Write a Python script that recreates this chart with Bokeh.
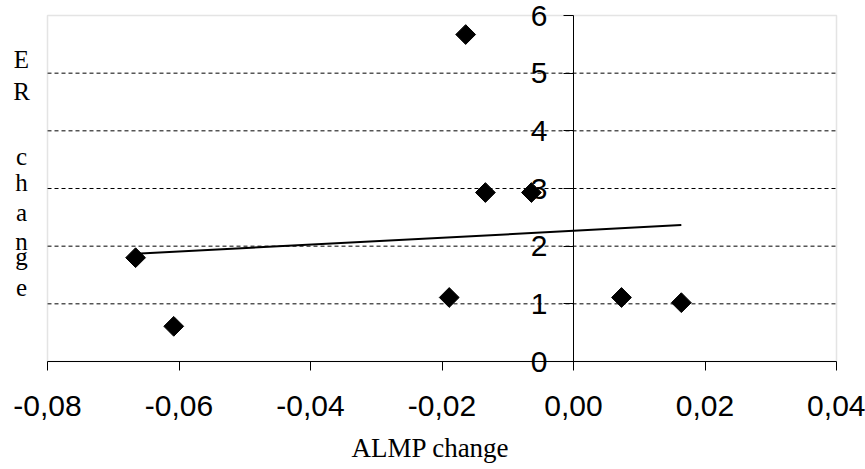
import numpy as np
from bokeh.plotting import figure
from bokeh.models import LinearAxis, FixedTicker, Label, Range1d, BoxAnnotation
from bokeh.embed import file_html
from bokeh.resources import INLINE

# ---- data ----
almp_change = [-0.0666, -0.0608, -0.0164, -0.0134, -0.0064, -0.0189, 0.0073, 0.0164]
er_change = [1.80, 0.61, 5.67, 2.93, 2.93, 1.11, 1.11, 1.02]

x_ticks = [-0.08, -0.06, -0.04, -0.02, 0.0, 0.02, 0.04]
x_tick_labels = ["-0,08", "-0,06", "-0,04", "-0,02", "0,00", "0,02", "0,04"]
y_ticks = [0, 1, 2, 3, 4, 5, 6]
y_tick_labels = ["0", "1", "2", "3", "4", "5", "6"]
grid_levels = [1, 2, 3, 4, 5]

y_title_letters = ["E", "R", "c", "h", "a", "n", "g", "e"]
x_title = "ALMP change"

# ---- layout (pixels on the 865x469 canvas) ----
W, H = 865, 469
AREA_L, AREA_R, AREA_T, AREA_B = 47, 836, 15, 361
letter_baselines_px = [59, 91, 156, 182, 212, 241, 256, 287]   # from canvas top
letter_x_px = 21
x_title_px = (430, 447)

xmin, xmax = x_ticks[0], x_ticks[-1]
ymin, ymax = y_ticks[0], y_ticks[-1]
xpp = (xmax - xmin) / (AREA_R - AREA_L)
ypp = (ymax - ymin) / (AREA_B - AREA_T)
x_range = Range1d(xmin - AREA_L * xpp, xmax + (W - AREA_R) * xpp)
y_range = Range1d(ymin - (H - AREA_B) * ypp, ymax + AREA_T * ypp)

p = figure(width=W, height=H, x_range=x_range, y_range=y_range,
           output_backend="svg", toolbar_location=None,
           x_axis_location=None, y_axis_location=None,
           min_border=0, min_border_left=0, min_border_right=0,
           min_border_top=0, min_border_bottom=0)
p.background_fill_color = "white"
p.border_fill_color = "white"
p.outline_line_color = None
p.xgrid.visible = False
p.ygrid.visible = False

# plot-area border (grey)
p.add_layout(BoxAnnotation(left=xmin, right=xmax, bottom=ymin, top=ymax,
                           fill_color=None, fill_alpha=0,
                           line_color="#a6a6a6", line_width=1.5, level="underlay"))

# dashed horizontal gridlines inside the plot area
p.segment(x0=xmin, x1=xmax, y0=grid_levels, y1=grid_levels,
          line_color="black", line_width=1, line_dash="4 3", level="underlay")

# x axis along y = 0
xa = LinearAxis(fixed_location=0, bounds=(xmin, xmax),
                ticker=FixedTicker(ticks=x_ticks),
                major_label_overrides=dict(zip(x_ticks, x_tick_labels)),
                major_tick_out=9, major_tick_in=0,
                minor_tick_line_color=None,
                axis_line_color="black", major_tick_line_color="black",
                major_label_text_font="Liberation Sans",
                major_label_text_font_size="30px",
                major_label_text_color="black",
                major_label_standoff=25)
p.add_layout(xa, "below")

# y axis crossing at x = 0
ya = LinearAxis(fixed_location=0, bounds=(ymin, ymax),
                ticker=FixedTicker(ticks=y_ticks),
                major_label_overrides=dict(zip(y_ticks, y_tick_labels)),
                major_tick_out=10, major_tick_in=0,
                minor_tick_line_color=None,
                axis_line_color="black", major_tick_line_color="black",
                major_label_text_font="Liberation Sans",
                major_label_text_font_size="30px",
                major_label_text_color="black",
                major_label_standoff=16)
p.add_layout(ya, "left")

# trend line (least squares)
slope, intercept = np.polyfit(almp_change, er_change, 1)
tx = [min(almp_change), max(almp_change)]
ty = [slope * v + intercept for v in tx]
p.line(tx, ty, line_color="black", line_width=2)

# points
p.scatter(almp_change, er_change, marker="square", angle=np.pi / 4, size=14,
          fill_color="black", line_color="black")

# y title (stacked letters)
for letter, yb in zip(y_title_letters, letter_baselines_px):
    p.add_layout(Label(x=letter_x_px, y=H - yb, x_units="screen", y_units="screen",
                       text=letter, text_font="Liberation Serif", text_font_size="25px",
                       text_align="center", text_baseline="alphabetic",
                       text_color="black"))

# x title
p.add_layout(Label(x=x_title_px[0], y=H - x_title_px[1], x_units="screen", y_units="screen",
                   text=x_title, text_font="Liberation Serif", text_font_size="27px",
                   text_align="center", text_baseline="alphabetic",
                   text_color="black"))

open("out.html", "w").write(file_html(p, INLINE))
